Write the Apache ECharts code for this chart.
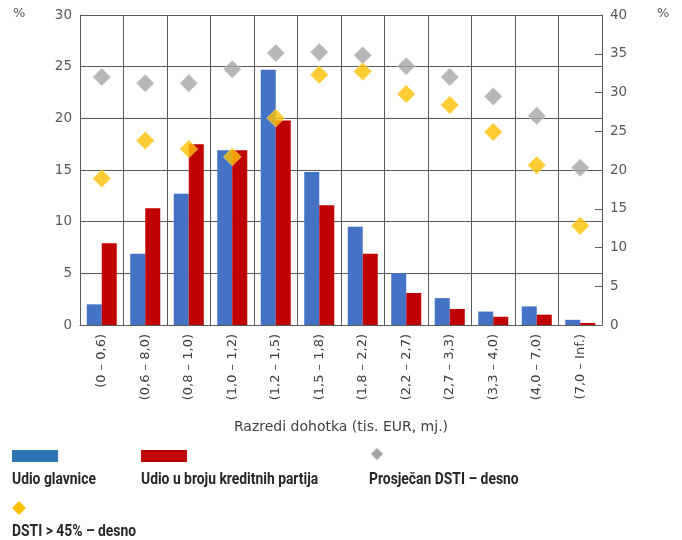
<!DOCTYPE html>
<html>
<head>
<meta charset="utf-8">
<script src="https://cdn.jsdelivr.net/npm/echarts@6/dist/echarts.min.js"></script>
<style>
  html, body { margin: 0; padding: 0; background: #fff; }
  #chart { width: 682px; height: 540px; }
</style>
</head>
<body>
<div id="chart"></div>
<script>
// data
var categories = ["(0 – 0,6)", "(0,6 – 8,0)", "(0,8 – 1,0)", "(1,0 – 1,2)", "(1,2 – 1,5)", "(1,5 – 1,8)",
  "(1,8 – 2,2)", "(2,2 – 2,7)", "(2,7 – 3,3)", "(3,3 – 4,0)", "(4,0 – 7,0)", "(7,0 – Inf.)"];
var udioGlavnice = [2.0, 6.9, 12.7, 16.9, 24.7, 14.8, 9.5, 5.0, 2.6, 1.3, 1.8, 0.5];
var udioPartija = [7.9, 11.3, 17.5, 16.9, 19.8, 11.6, 6.9, 3.1, 1.55, 0.8, 1.0, 0.2];
var prosjecanDsti = [32.0, 31.2, 31.2, 33.0, 35.1, 35.2, 34.8, 33.4, 32.0, 29.5, 27.0, 20.3];
var dstiIznad45 = [18.9, 23.8, 22.7, 21.7, 26.7, 32.3, 32.7, 29.8, 28.4, 24.9, 20.6, 12.8];
var seriesNames = ["Udio glavnice", "Udio u broju kreditnih partija", "Prosječan DSTI – desno", "DSTI > 45% – desno"];
var xTitle = "Razredi dohotka (tis. EUR, mj.)";

var lineCol = "#5a5a5a";
var txtCol = "#595959";
var ff = "DejaVu Sans";
var legendFont = "bold 16px Roboto";

// legend font in the original is a condensed one, squeeze Roboto to match
var ctx = document.createElement("canvas").getContext("2d");
ctx.font = legendFont;
var sq = 84 / ctx.measureText(seriesNames[0]).width;

function legendText(x, y, txt) {
  return {
    type: "text", x: x, y: y, scaleX: sq,
    style: { text: txt, fill: "#262626", font: legendFont, verticalAlign: "middle" }
  };
}

var myChart = echarts.init(document.getElementById("chart"));

myChart.setOption({
  animation: false,
  grid: { left: 80, right: 80, top: 15, bottom: 215 },
  xAxis: {
    type: "category",
    data: categories,
    axisLine: { lineStyle: { color: lineCol } },
    axisTick: { show: false },
    splitLine: { show: true, lineStyle: { color: lineCol } },
    axisLabel: { rotate: 90, color: "#404040", fontFamily: ff, fontSize: 13, margin: 9, interval: 0 }
  },
  yAxis: [
    {
      type: "value", min: 0, max: 30, interval: 5,
      axisLine: { show: true, lineStyle: { color: lineCol } },
      axisTick: { show: false },
      splitLine: { lineStyle: { color: lineCol } },
      axisLabel: { color: txtCol, fontFamily: ff, fontSize: 13.5, margin: 8 }
    },
    {
      type: "value", min: 0, max: 40, interval: 5,
      axisLine: { show: true, lineStyle: { color: lineCol } },
      axisTick: { show: true, inside: true, length: 7, lineStyle: { color: lineCol } },
      splitLine: { show: false },
      axisLabel: { color: txtCol, fontFamily: ff, fontSize: 13.5, margin: 8 }
    }
  ],
  series: [
    {
      name: seriesNames[0], type: "bar", data: udioGlavnice,
      barWidth: 15, barGap: 0,
      itemStyle: { color: "#4472C4" }
    },
    {
      name: seriesNames[1], type: "bar", data: udioPartija,
      barWidth: 15, barGap: 0,
      itemStyle: { color: "#C00000" }
    },
    {
      name: seriesNames[2], type: "scatter", yAxisIndex: 1, data: prosjecanDsti,
      symbol: "diamond", symbolSize: 18,
      itemStyle: { color: "#A5A5A5", borderColor: "#eee", borderWidth: 0.6 }, z: 5
    },
    {
      name: seriesNames[3], type: "scatter", yAxisIndex: 1, data: dstiIznad45,
      symbol: "diamond", symbolSize: 18,
      itemStyle: { color: "#FFC000", borderColor: "#ffe9a8", borderWidth: 0.6 }, z: 6
    }
  ],
  graphic: [
    { type: "text", left: 13, top: 7, style: { text: "%", fill: txtCol, font: "13px 'DejaVu Sans'" } },
    { type: "text", left: 657, top: 7, style: { text: "%", fill: txtCol, font: "13px 'DejaVu Sans'" } },
    { type: "text", x: 341, y: 427, style: { text: xTitle, fill: "#404040", font: "14px 'DejaVu Sans'", align: "center", verticalAlign: "middle" } },
    // legend
    { type: "rect", shape: { x: 12, y: 450, width: 46, height: 12 }, style: { fill: "#2E75B6" } },
    legendText(12, 480, seriesNames[0]),
    { type: "rect", shape: { x: 141, y: 450, width: 46, height: 12 }, style: { fill: "#C00000" } },
    legendText(141, 480, seriesNames[1]),
    { type: "polygon", shape: { points: [[377, 448], [383, 454], [377, 460], [371, 454]] }, style: { fill: "#A5A5A5" } },
    legendText(369, 480, seriesNames[2]),
    { type: "polygon", shape: { points: [[19, 501], [26, 508], [19, 515], [12, 508]] }, style: { fill: "#FFC000" } },
    legendText(12, 532, seriesNames[3])
  ]
});
</script>
</body>
</html>
